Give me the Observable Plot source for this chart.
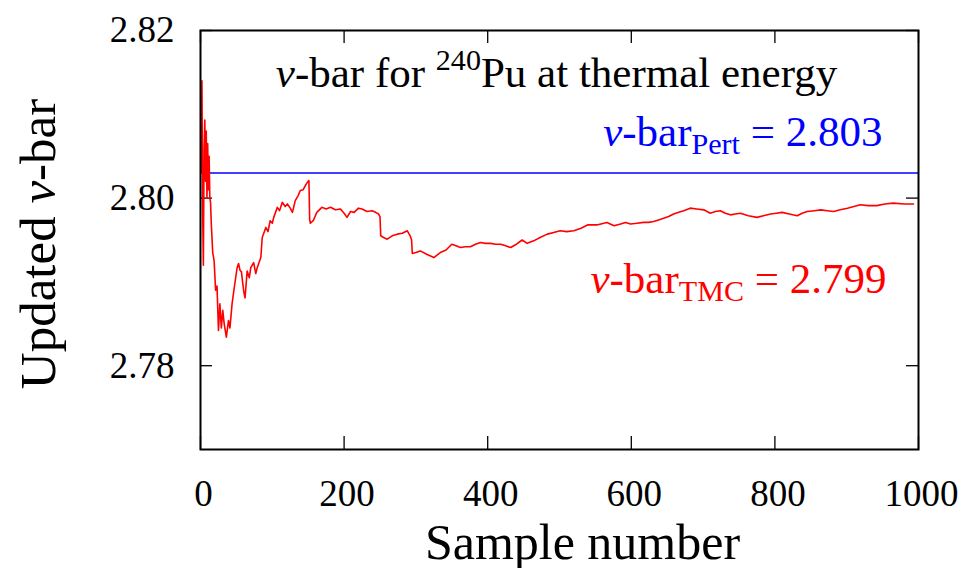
<!DOCTYPE html>
<html>
<head>
<meta charset="utf-8">
<script src="https://cdn.jsdelivr.net/npm/d3@7"></script>
<script src="https://cdn.jsdelivr.net/npm/@observablehq/plot@0.6"></script>
<style>
  html, body { margin: 0; padding: 0; background: #ffffff; }
  #chart svg { display: block; }
</style>
</head>
<body>
<div id="chart"></div>
<script>
// ---- Data ----
const sampleNumber = [
  1, 2, 3, 4, 5, 6, 7, 8, 9, 10, 11, 12, 13, 14, 15, 17, 19, 21, 23, 25,
  27, 29, 31, 33, 36, 39, 41, 44, 47, 51, 53, 55, 57, 60, 62, 65, 68, 70, 74, 77,
  79, 84, 86, 91, 94, 97, 100, 102, 107, 110, 114, 118, 121, 125, 128, 132, 136, 139, 143, 146,
  149, 151, 152, 153, 157, 162, 169, 175, 181, 188, 195, 200, 204, 209, 214, 220, 225, 232, 239, 244,
  248, 250, 251, 255, 260, 267, 274, 281, 288, 292, 294, 295, 300, 306, 315, 325, 334, 342, 350, 356,
  362, 369, 376, 383, 390, 397, 404, 411, 418, 425, 432, 440, 448, 455, 464, 473, 483, 492, 501, 510,
  520, 530, 539, 552, 566, 576, 585, 592, 599, 608, 617, 624, 631, 638, 645, 652, 659, 666, 673, 682,
  691, 701, 710, 717, 724, 731, 738, 745, 752, 763, 775, 784, 794, 802, 810, 820, 831, 838, 845, 855,
  864, 873, 882, 891, 901, 910, 919, 930, 942, 953, 965, 980, 993
];
const nuBarTMC = [
  2.8030, 2.8140, 2.7985, 2.7920, 2.8060, 2.8093, 2.8020, 2.8080, 2.8000, 2.8065, 2.8010, 2.8050, 2.8000, 2.7995, 2.7970, 2.7935, 2.7925, 2.7890, 2.7895, 2.7842,
  2.7874, 2.7845, 2.7866, 2.7850, 2.7834, 2.7854, 2.7845, 2.7874, 2.7893, 2.7917, 2.7922, 2.7914, 2.7912, 2.7890, 2.7881, 2.7913, 2.7905, 2.7917, 2.7923, 2.7910,
  2.7917, 2.7929, 2.7953, 2.7965, 2.7960, 2.7973, 2.7970, 2.7977, 2.7989, 2.7985, 2.7995, 2.7990, 2.7993, 2.7988, 2.7983, 2.7997, 2.8003, 2.8009, 2.8010, 2.8015,
  2.8019, 2.8021, 2.7975, 2.7970, 2.7973, 2.7983, 2.7989, 2.7987, 2.7989, 2.7986, 2.7987, 2.7982, 2.7977, 2.7984, 2.7983, 2.7988, 2.7987, 2.7984, 2.7985, 2.7983,
  2.7981, 2.7978, 2.7955, 2.7953, 2.7951, 2.7955, 2.7957, 2.7958, 2.7961, 2.7955, 2.7950, 2.7934, 2.7935, 2.7937, 2.7933, 2.7929, 2.7935, 2.7938, 2.7945, 2.7943,
  2.7941, 2.7942, 2.7942, 2.7945, 2.7947, 2.7946, 2.7946, 2.7945, 2.7945, 2.7943, 2.7941, 2.7945, 2.7950, 2.7946, 2.7949, 2.7953, 2.7957, 2.7959, 2.7961, 2.7960,
  2.7961, 2.7964, 2.7968, 2.7968, 2.7971, 2.7967, 2.7969, 2.7971, 2.7969, 2.7970, 2.7971, 2.7971, 2.7972, 2.7974, 2.7976, 2.7978, 2.7981, 2.7983, 2.7985, 2.7988,
  2.7987, 2.7986, 2.7982, 2.7984, 2.7985, 2.7982, 2.7980, 2.7981, 2.7982, 2.7979, 2.7977, 2.7979, 2.7981, 2.7982, 2.7983, 2.7981, 2.7979, 2.7982, 2.7984, 2.7985,
  2.7986, 2.7985, 2.7984, 2.7986, 2.7988, 2.7990, 2.7992, 2.7991, 2.7991, 2.7993, 2.7994, 2.7993, 2.7993
];
const nuBarPert = [2.803];
const xTicks = [0, 200, 400, 600, 800, 1000];
const yTicks = [2.78, 2.80, 2.82];
const xDomain = [0, 1000];
const yDomain = [2.77, 2.82];

// Text pieces
const titleParts = [{t: "ν", italic: true}, {t: "-bar for "}, {t: "240", sup: true}, {t: "Pu at thermal energy"}];
const pertParts = [{t: "ν", italic: true}, {t: "-bar"}, {t: "Pert", sub: true}, {t: " = 2.803"}];
const tmcParts = [{t: "ν", italic: true}, {t: "-bar"}, {t: "TMC", sub: true}, {t: " = 2.799"}];
const xLabelParts = [{t: "Sample number"}];
const yLabelParts = [{t: "Updated "}, {t: "ν", italic: true}, {t: "-bar"}];

const plain = parts => parts.map(p => p.t).join("");

const series = sampleNumber.map((n, i) => ({n, v: nuBarTMC[i]}));

const FONT = "Liberation Serif, DejaVu Serif, serif";

const chart = Plot.plot({
  width: 964,
  height: 568,
  marginLeft: 200,
  marginRight: 46,
  marginTop: 30,
  marginBottom: 119,
  style: {background: "#ffffff", color: "#000000", overflow: "visible", fontFamily: FONT},
  x: {domain: xDomain, label: null},
  y: {domain: yDomain, label: null},
  marks: [
    // tick labels
    Plot.axisX(xTicks, {tickSize: 0, tickPadding: 30, fontSize: 37, tickFormat: d => String(d), label: null, dx: 3}),
    Plot.axisY(yTicks, {tickSize: 0, tickPadding: 26, fontSize: 37, tickFormat: d => d.toFixed(2), label: null}),
    // inward tick marks (bottom, top mirror, left, right mirror)
    Plot.tickX(xTicks, {x: d => d, insetTop: 406, stroke: "#000", strokeWidth: 1.3}),
    Plot.tickX(xTicks, {x: d => d, insetBottom: 406, stroke: "#000", strokeWidth: 1.3}),
    Plot.tickY(yTicks, {y: d => d, insetRight: 706, stroke: "#000", strokeWidth: 1.3}),
    Plot.tickY(yTicks, {y: d => d, insetLeft: 706, stroke: "#000", strokeWidth: 1.3}),
    // perturbation value
    Plot.ruleY(nuBarPert, {y: d => d, stroke: "#0000ff", strokeWidth: 1.5}),
    // TMC running mean
    Plot.line(series, {x: "n", y: "v", stroke: "#ff0000", strokeWidth: 1.6, clip: true}),
    Plot.frame({stroke: "#000", strokeWidth: 2}),
    // texts
    Plot.text([plain(titleParts)], {text: d => d, frameAnchor: "top", textAnchor: "middle", dx: -3, dy: 43, lineAnchor: "middle", fontSize: 43, fill: "#000"}),
    Plot.text([plain(pertParts)], {text: d => d, frameAnchor: "top-right", textAnchor: "end", dx: -36, dy: 102, lineAnchor: "middle", fontSize: 43, fill: "#0000ff"}),
    Plot.text([plain(tmcParts)], {text: d => d, frameAnchor: "top-right", textAnchor: "end", dx: -32, dy: 249, lineAnchor: "middle", fontSize: 43, fill: "#ff0000"}),
    Plot.text([plain(xLabelParts)], {text: d => d, frameAnchor: "bottom", textAnchor: "middle", dx: 23, dy: 93, lineAnchor: "middle", fontSize: 50, fill: "#000"}),
    Plot.text([plain(yLabelParts)], {text: d => d, frameAnchor: "left", textAnchor: "middle", dx: -162, dy: 4, rotate: -90, lineAnchor: "middle", fontSize: 51, fill: "#000"})
  ]
});

// Rebuild texts with tspans for italics, sub- and superscripts
function richText(svg, parts, base) {
  const target = plain(parts);
  const text = Array.from(svg.querySelectorAll("text")).find(el => el.textContent === target);
  if (!text) return;
  while (text.firstChild) text.removeChild(text.firstChild);
  for (const p of parts) {
    const ts = document.createElementNS("http://www.w3.org/2000/svg", "tspan");
    ts.textContent = p.t;
    if (p.italic) ts.setAttribute("font-style", "italic");
    if (p.sup) { ts.setAttribute("font-size", (base * 0.7).toFixed(1)); ts.setAttribute("baseline-shift", (base * 0.4).toFixed(1)); }
    if (p.sub) { ts.setAttribute("font-size", (base * 0.7).toFixed(1)); ts.setAttribute("baseline-shift", (-base * 0.18).toFixed(1)); }
    text.appendChild(ts);
  }
}
richText(chart, titleParts, 43);
richText(chart, pertParts, 43);
richText(chart, tmcParts, 43);
richText(chart, yLabelParts, 51);

document.getElementById("chart").appendChild(chart);
</script>
</body>
</html>
